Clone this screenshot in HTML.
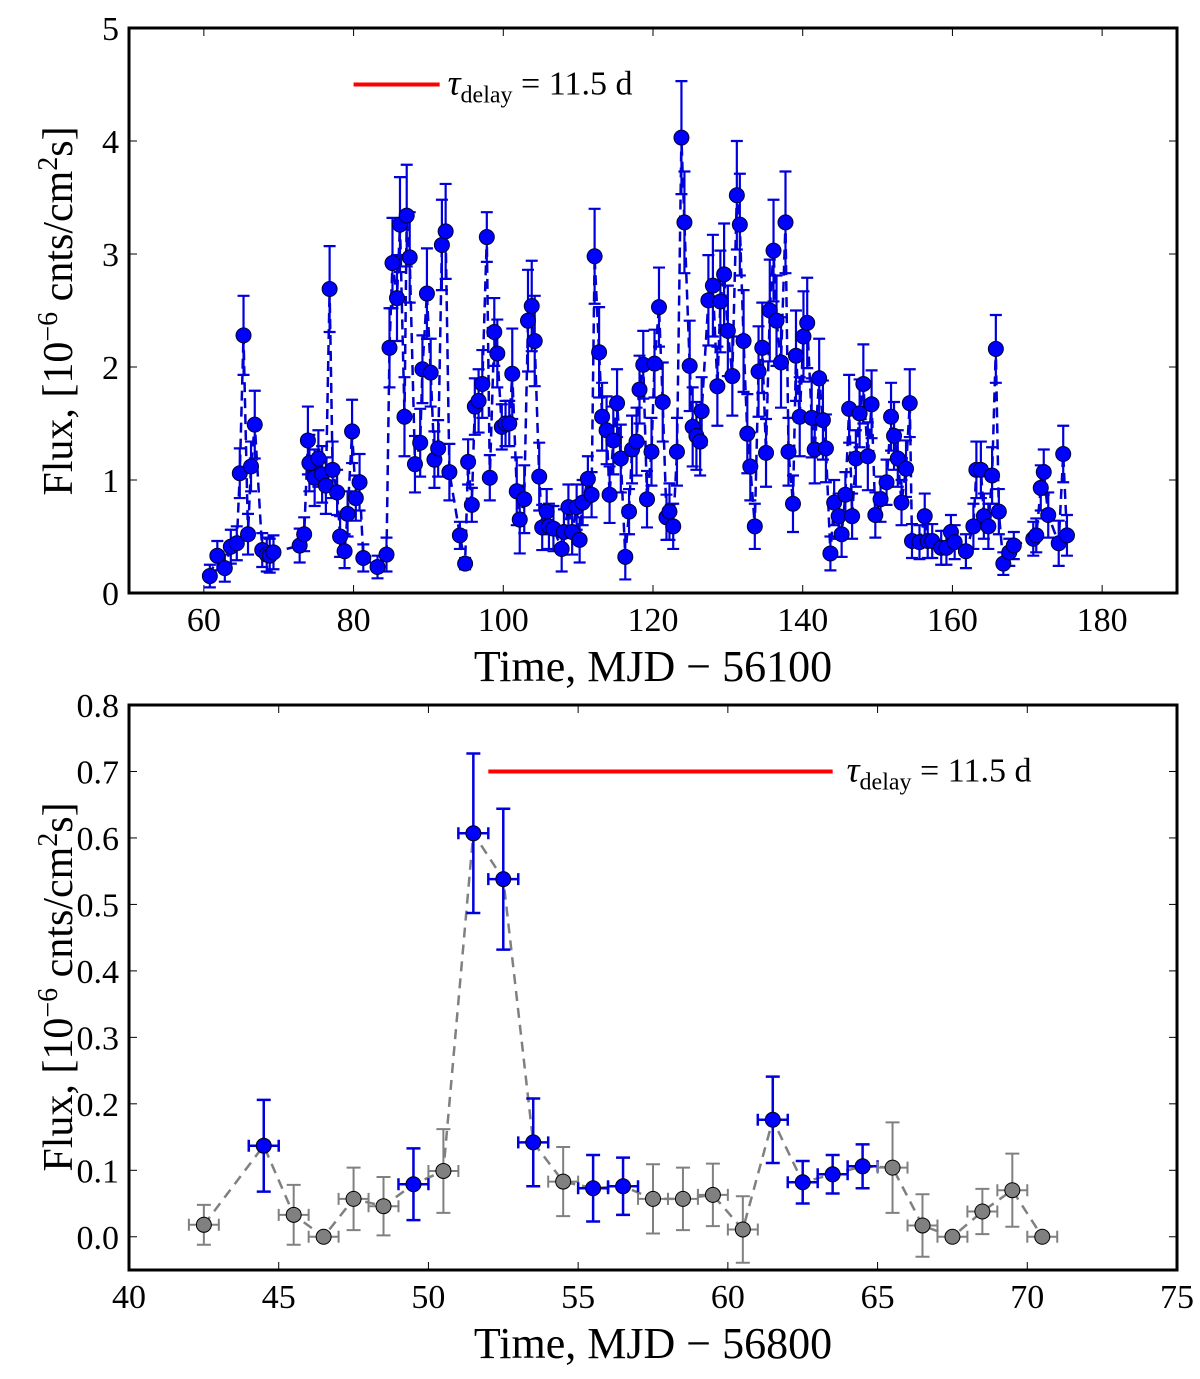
<!DOCTYPE html>
<html><head><meta charset="utf-8"><style>
html,body{margin:0;padding:0;background:#fff;}
svg{display:block;font-family:"Liberation Serif","DejaVu Serif",serif;}
</style></head><body>
<svg id="chart" width="1200" height="1379" viewBox="0 0 1200 1379" xmlns="http://www.w3.org/2000/svg">
<g id="top"></g>
<g id="bot"></g>
</svg>
<script>
// ---- top panel data: [time, flux, error]
const topObs = [
[60.8,.15,.1],[61.8,.33,.13],[62.8,.22,.12],[63.6,.41,.15],[64.4,.44,.15],[64.8,1.06,.22],[65.3,2.28,.35],[65.9,.52,.18],[66.3,1.12,.22],[66.8,1.49,.3],
[67.8,.38,.15],[68.4,.34,.15],[68.8,.33,.15],[69.3,.36,.15],[72.8,.42,.15],[73.4,.52,.15],[73.9,1.35,.3],[74.1,1.15,.25],[74.8,1.02,.25],[75.3,1.19,.25],
[75.8,1.05,.25],[76.3,.95,.25],[76.8,2.69,.38],[77.2,1.09,.25],[77.8,.89,.2],[78.2,.5,.18],[78.8,.37,.15],[79.2,.7,.2],[79.8,1.43,.28],[80.3,.84,.2],
[80.8,.98,.25],[81.3,.31,.12],[83.2,.23,.1],[84.4,.34,.15],[84.8,2.17,.35],[85.2,2.92,.4],[85.8,2.61,.38],[86.2,3.26,.42],[86.8,1.56,.35],[87.1,3.34,.45],
[87.5,2.97,.4],[88.2,1.14,.25],[88.9,1.33,.3],[89.2,1.98,.3],[89.8,2.65,.4],[90.3,1.95,.3],[90.8,1.18,.25],[91.3,1.28,.25],[91.8,3.08,.4],[92.3,3.2,.42],
[92.8,1.07,.25],[94.2,.51,.12],[94.9,.26,.05],[95.3,1.16,.2],[95.8,.78,.15],[96.2,1.65,.25],[96.7,1.7,.28],[97.2,1.85,.3],[97.8,3.15,.22],[98.2,1.02,.2],
[98.8,2.31,.3],[99.2,2.12,.3],[99.8,1.47,.2],[100.3,1.5,.2],[100.8,1.5,.2],[101.2,1.94,.4],[101.8,.9,.3],[102.2,.65,.3],[102.8,.83,.3],[103.3,2.41,.45],
[103.8,2.54,.4],[104.2,2.23,.4],[104.8,1.03,.3],[105.2,.58,.2],[105.8,.72,.2],[106.1,.59,.2],[106.7,.57,.2],[107.8,.39,.2],[108.1,.54,.2],[108.7,.76,.2],
[109.2,.54,.2],[109.8,.76,.2],[110.2,.47,.2],[110.6,.8,.2],[111.3,1.01,.2],[111.8,.87,.2],[112.2,2.98,.42],[112.8,2.13,.4],[113.2,1.56,.3],[113.8,1.44,.3],
[114.2,.87,.25],[114.7,1.35,.3],[115.2,1.68,.3],[115.7,1.19,.3],[116.3,.32,.2],[116.8,.72,.2],[117.2,1.27,.3],[117.8,1.34,.3],[118.2,1.8,.3],[118.7,2.02,.3],
[119.2,.83,.25],[119.8,1.25,.3],[120.2,2.03,.3],[120.8,2.53,.35],[121.3,1.69,.35],[121.8,.67,.2],[122.2,.72,.25],[122.7,.59,.2],[123.2,1.25,.3],[123.8,4.03,.5],
[124.2,3.28,.45],[124.9,2.01,.4],[125.3,1.47,.35],[125.8,1.39,.3],[126.3,1.34,.3],[126.5,1.61,.3],[127.4,2.59,.4],[128.0,2.72,.45],[128.6,1.83,.35],[129.0,2.58,.45],
[129.5,2.82,.45],[130.0,2.32,.4],[130.6,1.92,.35],[131.2,3.52,.48],[131.6,3.26,.45],[132.1,2.23,.45],[132.6,1.41,.35],[133.0,1.12,.3],[133.6,.59,.2],[134.1,1.96,.4],
[134.6,2.17,.4],[135.1,1.24,.3],[135.6,2.5,.45],[136.1,3.03,.45],[136.5,2.41,.4],[137.1,2.04,.4],[137.7,3.28,.45],[138.1,1.25,.3],[138.7,.79,.25],[139.1,2.1,.4],
[139.6,1.56,.35],[140.1,2.27,.4],[140.6,2.39,.4],[141.2,1.55,.35],[141.6,1.27,.3],[142.2,1.9,.35],[142.7,1.53,.35],[143.1,1.28,.3],[143.7,.35,.15],[144.2,.8,.2],
[144.8,.68,.2],[145.2,.52,.2],[145.7,.87,.2],[146.2,1.63,.3],[146.6,.68,.2],[147.1,1.19,.25],[147.6,1.59,.3],[148.1,1.85,.35],[148.7,1.21,.3],[149.2,1.67,.3],
[149.7,.69,.2],[150.4,.83,.2],[151.2,.98,.2],[151.8,1.56,.3],[152.2,1.39,.3],[152.7,1.19,.25],[153.2,.8,.2],[153.8,1.1,.25],[154.3,1.68,.3],[154.6,.46,.15],
[155.6,.45,.15],[156.3,.68,.2],[156.7,.46,.15],[157.3,.46,.15],[158.5,.4,.15],[159.2,.4,.15],[159.8,.54,.15],[160.3,.45,.15],[161.8,.37,.15],[162.8,.59,.2],
[163.2,1.09,.25],[163.8,1.09,.25],[164.2,.68,.2],[164.8,.59,.2],[165.3,1.04,.25],[165.8,2.16,.3],[166.2,.72,.2],[166.8,.26,.1],[167.6,.36,.12],[168.2,.42,.12],
[170.8,.48,.15],[171.2,.51,.15],[171.8,.93,.2],[172.2,1.07,.2],[172.8,.69,.2],[174.2,.44,.2],[174.8,1.23,.25],[175.3,.51,.18]
];
const topX = topObs.map(d => d[0]);
const topY = topObs.map(d => d[1]);
const topErr = topObs.map(d => d[2]);
const topXTicks = [60, 80, 100, 120, 140, 160, 180];
const topYTicks = [0, 1, 2, 3, 4, 5];

// ---- bottom panel data
const botX = [42.5,44.5,45.5,46.5,47.5,48.5,49.5,50.5,51.5,52.5,53.5,54.5,55.5,56.5,57.5,58.5,59.5,60.5,61.5,62.5,63.5,64.5,65.5,66.5,67.5,68.5,69.5,70.5];
const botY = [0.018,0.137,0.033,0.0,0.057,0.046,0.079,0.099,0.607,0.538,0.142,0.083,0.073,0.076,0.057,0.057,0.063,0.011,0.176,0.082,0.094,0.106,0.104,0.017,0.0,0.038,0.070,0.0];
const botErr = [0.03,0.069,0.045,0,0.047,0.044,0.054,0.063,0.12,0.106,0.066,0.052,0.05,0.043,0.052,0.047,0.047,0.05,0.065,0.032,0.029,0.033,0.068,0.047,0,0.034,0.055,0];
const botSig = [0,1,0,0,0,0,1,0,1,1,1,0,1,1,0,0,0,0,1,1,1,1,0,0,0,0,0,0];
const botXTicks = [40,45,50,55,60,65,70,75];
const botYTicks = [0.0,0.1,0.2,0.3,0.4,0.5,0.6,0.7,0.8];

const NS = "http://www.w3.org/2000/svg";
function mk(parent, tag, attrs, text) {
  const e = document.createElementNS(NS, tag);
  for (const k in attrs) e.setAttribute(k, attrs[k]);
  if (text !== undefined) e.textContent = text;
  parent.appendChild(e);
  return e;
}
const L = 129, R = 1177;

function axes(g, top, bot, xmin, xmax, ymin, ymax, xt, yt, fmt, xlabel, ylabelY) {
  const sx = v => L + (v - xmin) / (xmax - xmin) * (R - L);
  const sy = v => bot - (v - ymin) / (ymax - ymin) * (bot - top);
  for (const t of xt) {
    const l1 = mk(g, "line", {x1: sx(t), x2: sx(t), y1: bot, y2: bot - 8, stroke: "#000", "stroke-width": 1});
    
    
    mk(g, "line", {x1: sx(t), x2: sx(t), y1: top, y2: top + 8, stroke: "#000", "stroke-width": 1});
    const tx = mk(g, "text", {x: sx(t), y: bot + 38, "text-anchor": "middle", "font-size": 34}, String(t));
    
    
  }
  for (const t of yt) {
    const l1 = mk(g, "line", {x1: L, x2: L + 8, y1: sy(t), y2: sy(t), stroke: "#000", "stroke-width": 1});
    
    
    mk(g, "line", {x1: R, x2: R - 8, y1: sy(t), y2: sy(t), stroke: "#000", "stroke-width": 1});
    const tx = mk(g, "text", {x: 119, y: sy(t) + 12, "text-anchor": "end", "font-size": 34}, fmt(t));
    
    
  }
  const xl = mk(g, "text", {x: 653, y: bot + 88, "text-anchor": "middle", "font-size": 44}, xlabel);
  
  
  const yl = mk(g, "text", {x: 0, y: 0, "text-anchor": "middle", "font-size": 42, transform: "translate(72," + ylabelY + ") rotate(-90)"});
  
  
  mk(yl, "tspan", {}, "Flux,  [10");
  mk(yl, "tspan", {"font-size": 28, dy: -15}, "−6");
  mk(yl, "tspan", {dy: 15}, " cnts/cm");
  mk(yl, "tspan", {"font-size": 28, dy: -15}, "2");
  mk(yl, "tspan", {dy: 15}, "s]");
  return {sx, sy};
}
function frame(g, top, bot) {
  const f = mk(g, "rect", {x: L, y: top, width: R - L, height: bot - top, fill: "none", stroke: "#000", "stroke-width": 3});
  
  
}
function tau(g, x, y) {
  const t = mk(g, "text", {x: x, y: y, "font-size": 34});
  
  
  mk(t, "tspan", {"font-style": "italic", "font-size": 36}, "τ");
  mk(t, "tspan", {"font-size": 24, dy: 8}, "delay");
  mk(t, "tspan", {dy: -8}, " = 11.5 d");
}

// ---- TOP
(function(){
  const g = document.getElementById("top");
  const top = 28, bot = 593;
  const {sx, sy} = axes(g, top, bot, 50, 190, 0, 5, topXTicks, topYTicks, t => String(t), "Time,  MJD − 56100", 311);
  let d = "";
  topX.forEach((x, i) => { d += (i ? "L" : "M") + sx(x).toFixed(1) + "," + sy(topY[i]).toFixed(1); });
  const line = mk(g, "path", {d: d, fill: "none", stroke: "#0000cc", "stroke-width": 2.5, "stroke-dasharray": "10,6"});
  
  
  topX.forEach((x, i) => {
    const cx = sx(x), y1 = sy(topY[i] + topErr[i]), y2 = sy(Math.max(0, topY[i] - topErr[i]));
    const eb = mk(g, "path", {d: `M${cx},${y1}V${y2}M${cx-6},${y1}H${cx+6}M${cx-6},${y2}H${cx+6}`, stroke: "#0000dd", "stroke-width": 2.2, fill: "none"});
    
    
  });
  topX.forEach((x, i) => {
    const c = mk(g, "circle", {cx: sx(x), cy: sy(topY[i]), r: 7.5, fill: "#0000ff", stroke: "#000033", "stroke-width": 1});
    
    
  });
  const red = mk(g, "line", {x1: sx(80), x2: sx(91.5), y1: sy(4.5), y2: sy(4.5), stroke: "#ff0000", "stroke-width": 4});
  
  
  tau(g, sx(91.5) + 8, sy(4.5) + 10);
  frame(g, top, bot);
})();

// ---- BOTTOM
(function(){
  const g = document.getElementById("bot");
  const top = 705, bot = 1270;
  const {sx, sy} = axes(g, top, bot, 40, 75, -0.05, 0.8, botXTicks, botYTicks, t => t.toFixed(1), "Time,  MJD − 56800", 987);
  let d = "";
  botX.forEach((x, i) => { d += (i ? "L" : "M") + sx(x).toFixed(1) + "," + sy(botY[i]).toFixed(1); });
  const line = mk(g, "path", {d: d, fill: "none", stroke: "#808080", "stroke-width": 2.5, "stroke-dasharray": "10,7"});
  
  
  botX.forEach((x, i) => {
    const col = botSig[i] ? "#0000dd" : "#808080";
    const cx = sx(x), cy = sy(botY[i]);
    const x1 = sx(x - 0.5), x2 = sx(x + 0.5);
    let p = `M${x1},${cy}H${x2}M${x1},${cy-6}V${cy+6}M${x2},${cy-6}V${cy+6}`;
    if (botErr[i] > 0) {
      const y1 = sy(botY[i] + botErr[i]), y2 = sy(botY[i] - botErr[i]);
      p += `M${cx},${y1}V${y2}M${cx-7},${y1}H${cx+7}M${cx-7},${y2}H${cx+7}`;
    }
    const eb = mk(g, "path", {d: p, stroke: col, "stroke-width": botSig[i] ? 2.5 : 2, fill: "none"});
    
    
  });
  botX.forEach((x, i) => {
    const c = mk(g, "circle", {cx: sx(x), cy: sy(botY[i]), r: 7.5, fill: botSig[i] ? "#0000ff" : "#808080", stroke: "#000", "stroke-width": 1});
    
    
  });
  const red = mk(g, "line", {x1: sx(52), x2: sx(63.5), y1: sy(0.7), y2: sy(0.7), stroke: "#ff0000", "stroke-width": 4});
  
  
  tau(g, sx(63.5) + 14, sy(0.7) + 10);
  frame(g, top, bot);
})();
</script>
</body></html>
